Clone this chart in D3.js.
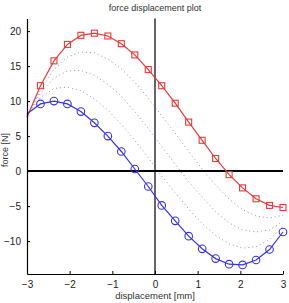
<!DOCTYPE html>
<html>
<head>
<meta charset="utf-8">
<script src="https://cdn.jsdelivr.net/npm/d3@7"></script>
<style>
  body { margin: 0; background: #fff; }
  svg { display: block; font-family: "Liberation Sans", Arial, sans-serif; }
</style>
</head>
<body>
<svg id="chart" width="289" height="303"></svg>
<script>
// ---- data ----
const xs = d3.range(20).map((i) => -3 + (i * 6) / 19);
const forceUpper = [7.7, 12.2, 15.75, 18.1, 19.4, 19.7, 19.3, 18.2, 16.6, 14.5, 12.2, 9.7, 7.0, 4.4, 1.8, -0.5, -2.4, -3.95, -4.9, -5.2];
const forceLower = [8.2, 9.6, 10.0, 9.6, 8.5, 6.9, 5.0, 2.8, 0.3, -2.2, -4.9, -7.1, -9.3, -11.1, -12.5, -13.3, -13.4, -12.7, -11.2, -8.7];
const dotted1 = [7.8, 11.6, 14.5, 16.3, 17.0, 16.9, 16.0, 14.6, 12.7, 10.4, 7.9, 5.4, 2.8, 0.3, -2.0, -4.0, -5.5, -6.4, -6.7, -6.3];
const dotted2 = [8.0, 11.1, 13.3, 14.3, 14.4, 13.7, 12.4, 10.7, 8.5, 6.1, 3.5, 1.0, -1.5, -3.7, -5.8, -7.4, -8.4, -8.7, -8.4, -7.2];
const dotted3 = [8.1, 10.5, 11.8, 12.0, 11.5, 10.3, 8.7, 6.7, 4.4, 1.9, -0.7, -3.1, -5.4, -7.5, -9.2, -10.4, -11.0, -10.8, -9.8, -7.9];
const xTicks = [-3, -2, -1, 0, 1, 2, 3];
const yTicks = [-10, -5, 0, 5, 10, 15, 20];

const svg = d3.select("#chart");
const x = d3.scaleLinear().domain([-3, 3]).range([27, 283]);
const y = d3.scaleLinear().domain([-14.7, 21.8]).range([274, 18.5]);
const fmt = (d) => (d < 0 ? "\u2212" + Math.abs(d) : String(d));

const line = (vals) =>
  d3.line().x((d, i) => x(xs[i])).y((d) => y(d))(vals);

// dotted intermediate curves
[dotted1, dotted2, dotted3].forEach((vals) => {
  svg.append("path")
    .attr("d", line(vals))
    .attr("fill", "none")
    .attr("stroke", "#8a8ae0")
    .attr("stroke-width", 1)
    .attr("stroke-dasharray", "1 3");
});

// zero lines
svg.append("line")
  .attr("x1", x(0)).attr("x2", x(0))
  .attr("y1", y.range()[1]).attr("y2", y.range()[0])
  .attr("stroke", "#333").attr("stroke-width", 1.5);

svg.append("line")
  .attr("x1", x(-3)).attr("x2", x(3))
  .attr("y1", y(0)).attr("y2", y(0))
  .attr("stroke", "#000").attr("stroke-width", 2);

// red series with squares
svg.append("path")
  .attr("d", line(forceUpper))
  .attr("fill", "none")
  .attr("stroke", "#e83a3a")
  .attr("stroke-width", 1.2);

svg.append("g")
  .selectAll("rect")
  .data(forceUpper.slice(1))
  .join("rect")
  .attr("x", (d, i) => x(xs[i + 1]) - 3)
  .attr("y", (d) => y(d) - 3)
  .attr("width", 6)
  .attr("height", 6)
  .attr("fill", "none")
  .attr("stroke", "#e83a3a")
  .attr("stroke-width", 1.1);

// blue series with circles
svg.append("path")
  .attr("d", line(forceLower))
  .attr("fill", "none")
  .attr("stroke", "#3535e0")
  .attr("stroke-width", 1.2);

svg.append("g")
  .selectAll("circle")
  .data(forceLower.slice(1))
  .join("circle")
  .attr("cx", (d, i) => x(xs[i + 1]))
  .attr("cy", (d) => y(d))
  .attr("r", 3.8)
  .attr("fill", "none")
  .attr("stroke", "#3535e0")
  .attr("stroke-width", 1.1);

// axes
svg.append("g")
  .attr("transform", `translate(0,${y.range()[0]})`)
  .call(d3.axisBottom(x).tickValues(xTicks).tickFormat(fmt).tickSize(-3).tickPadding(7).tickSizeOuter(0))
  .call((g) => g.select(".domain").attr("stroke", "#000").attr("stroke-width", 1.2))
  .call((g) => g.selectAll("text").attr("fill", "#222").style("font-size", "10px"));

svg.append("g")
  .attr("transform", `translate(${x.range()[0]},0)`)
  .call(d3.axisLeft(y).tickValues(yTicks).tickFormat(fmt).tickSize(-3).tickPadding(6).tickSizeOuter(0))
  .call((g) => g.select(".domain").attr("stroke", "#000").attr("stroke-width", 1.2))
  .call((g) => g.selectAll("text").attr("fill", "#222").style("font-size", "10px"));

// labels
svg.append("text")
  .attr("x", 155).attr("y", 11)
  .attr("text-anchor", "middle")
  .attr("fill", "#333")
  .style("font-size", "9px")
  .text("force displacement plot");

svg.append("text")
  .attr("x", 155).attr("y", 299)
  .attr("text-anchor", "middle")
  .attr("fill", "#333")
  .style("font-size", "9.5px")
  .text("displacement [mm]");

svg.append("text")
  .attr("transform", "translate(8,150) rotate(-90)")
  .attr("text-anchor", "middle")
  .attr("fill", "#333")
  .style("font-size", "9px")
  .text("force [N]");
</script>
</body>
</html>
